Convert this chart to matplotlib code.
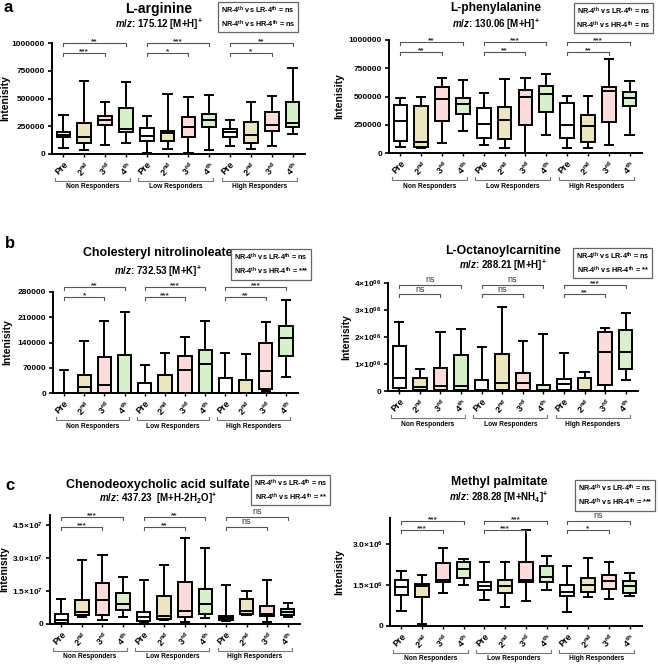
import matplotlib.pyplot as plt

plt.rcParams['font.family'] = ['Liberation Sans', 'DejaVu Sans']
plt.rcParams['font.weight'] = 'bold'
plt.rcParams['mathtext.fontset'] = 'custom'
plt.rcParams['mathtext.rm'] = 'Liberation Sans:bold'
plt.rcParams['mathtext.it'] = 'Liberation Sans:italic:bold'
plt.rcParams['mathtext.bf'] = 'Liberation Sans:bold'
plt.rcParams['mathtext.default'] = 'rm'

W, H = 658, 664

groups = ['Non Responders', 'Low Responders', 'High Responders']
visits = ['Pre', '2$^{nd}$', '3$^{rd}$', '4$^{th}$']
fills = ['white', '#ece5c2', '#fbdcdd', '#d8efcc']

# each box: (min, q1, median, q3, max), order NR Pre..4th, LR Pre..4th, HR Pre..4th
arginine = [(55e3, 150e3, 170e3, 195e3, 355e3), (40e3, 95e3, 155e3, 275e3, 662e3),
            (85e3, 265e3, 310e3, 345e3, 465e3), (100e3, 200e3, 225e3, 410e3, 645e3),
            (10e3, 115e3, 160e3, 230e3, 340e3), (45e3, 120e3, 185e3, 210e3, 545e3),
            (5e3, 150e3, 245e3, 330e3, 510e3), (40e3, 240e3, 310e3, 360e3, 530e3),
            (75e3, 150e3, 195e3, 225e3, 305e3), (45e3, 100e3, 175e3, 285e3, 470e3),
            (75e3, 205e3, 265e3, 380e3, 520e3), (180e3, 240e3, 275e3, 470e3, 775e3)]

phenylalanine = [(50e3, 105e3, 285e3, 425e3, 490e3), (40e3, 50e3, 95e3, 415e3, 500e3),
                 (85e3, 285e3, 480e3, 585e3, 665e3), (195e3, 345e3, 430e3, 490e3, 650e3),
                 (70e3, 130e3, 255e3, 395e3, 535e3), (45e3, 120e3, 295e3, 405e3, 655e3),
                 (0, 250e3, 495e3, 560e3, 665e3), (160e3, 360e3, 520e3, 595e3, 695e3),
                 (45e3, 130e3, 250e3, 440e3, 505e3), (40e3, 95e3, 235e3, 340e3, 505e3),
                 (70e3, 275e3, 545e3, 585e3, 835e3), (160e3, 420e3, 490e3, 540e3, 640e3)]

cholesteryl = [(0, 0, 0, 0, 65e3), (0, 0, 17e3, 50e3, 145e3),
               (0, 0, 22e3, 100e3, 200e3), (0, 0, 0, 105e3, 225e3),
               (0, 0, 0, 27e3, 77e3), (0, 0, 0, 50e3, 112e3),
               (0, 0, 63e3, 103e3, 155e3), (0, 0, 80e3, 118e3, 200e3),
               (0, 0, 0, 42e3, 110e3), (0, 0, 0, 37e3, 108e3),
               (5e3, 12e3, 60e3, 140e3, 197e3), (43e3, 103e3, 152e3, 187e3, 257e3)]

octanoylcarnitine = [(0, 0.12e6, 0.47e6, 1.68e6, 2.55e6), (0, 0.05e6, 0.15e6, 0.5e6, 0.8e6),
                     (0, 0.03e6, 0.2e6, 0.85e6, 2.2e6), (0, 0.03e6, 0.2e6, 1.35e6, 2.3e6),
                     (0, 0.02e6, 0.05e6, 0.42e6, 1.63e6), (0, 0.05e6, 0.28e6, 1.37e6, 3.12e6),
                     (0, 0.05e6, 0.3e6, 0.65e6, 1.87e6), (0, 0.01e6, 0.03e6, 0.24e6, 2.1e6),
                     (0, 0.05e6, 0.27e6, 0.45e6, 1.4e6), (0, 0.02e6, 0.05e6, 0.48e6, 0.7e6),
                     (0, 0.22e6, 1.43e6, 2.18e6, 2.35e6), (0.42e6, 0.82e6, 1.43e6, 2.27e6, 2.9e6)]

chenodeoxycholic = [(0, 0.05e7, 0.18e7, 0.45e7, 1.15e7), (0.3e7, 0.4e7, 0.55e7, 1.1e7, 2.9e7),
                    (0.2e7, 0.4e7, 1.1e7, 1.85e7, 3.15e7), (0.3e7, 0.65e7, 0.9e7, 1.4e7, 2.15e7),
                    (0.1e7, 0.15e7, 0.3e7, 0.55e7, 2.0e7), (0.2e7, 0.22e7, 0.35e7, 1.25e7, 2.7e7),
                    (0.1e7, 0.3e7, 0.6e7, 1.9e7, 3.9e7), (0.25e7, 0.45e7, 0.9e7, 1.6e7, 3.45e7),
                    (0.12e7, 0.18e7, 0.25e7, 0.35e7, 1.75e7), (0.4e7, 0.45e7, 0.6e7, 1.15e7, 1.5e7),
                    (0.1e7, 0.35e7, 0.45e7, 0.8e7, 2.0e7), (0.32e7, 0.4e7, 0.55e7, 0.68e7, 0.95e7)]

methyl_palmitate = [(0.55e6, 1.15e6, 1.43e6, 1.7e6, 2.0e6), (0.08e6, 1.05e6, 1.45e6, 1.55e6, 1.85e6),
                    (1.2e6, 1.6e6, 1.7e6, 2.3e6, 2.85e6), (1.5e6, 1.75e6, 2.1e6, 2.35e6, 2.45e6),
                    (0.95e6, 1.3e6, 1.45e6, 1.6e6, 2.35e6), (0.7e6, 1.2e6, 1.45e6, 1.7e6, 2.35e6),
                    (0.9e6, 1.6e6, 1.7e6, 2.35e6, 3.5e6), (1.3e6, 1.6e6, 1.8e6, 2.2e6, 2.55e6),
                    (0.5e6, 1.1e6, 1.25e6, 1.5e6, 2.2e6), (1.05e6, 1.25e6, 1.5e6, 1.75e6, 2.5e6),
                    (1.0e6, 1.35e6, 1.65e6, 1.85e6, 2.35e6), (1.08e6, 1.2e6, 1.45e6, 1.65e6, 1.95e6)]

# significance per group: (Pre vs 3rd, Pre vs 4th)
sig_arginine = [('***', '**'), ('*', '***'), ('*', '**')]
sig_phenylalanine = [('**', '**'), ('**', '***'), ('**', '***')]
sig_cholesteryl = [('*', '**'), ('***', '***'), ('**', '***')]
sig_octanoyl = [('ns', 'ns'), ('ns', 'ns'), ('**', '***')]
sig_cheno = [('***', '***'), ('**', '**'), ('ns', 'ns')]
sig_methyl = [('***', '***'), ('***', '***'), ('*', 'ns')]

# 4th visit comparisons between groups
cmp_arginine = ('ns', 'ns')
cmp_phenylalanine = ('ns', 'ns')
cmp_cholesteryl = ('ns', '***')
cmp_octanoyl = ('ns', '**')
cmp_cheno = ('ns', '**')
cmp_methyl = ('ns', '***')


def fx(x):
    return x / W


def fy(y):
    return 1 - y / H


def panel(data, sig, cmp, title, tsize, subtitle, ylim, yticks, yticklabels,
          ax_px, title_px, sub_y, box_px, ylab_x, sig_px):
    l, t, r, b = ax_px
    ax = fig.add_axes([fx(l), fy(b), (r - l) / W, (b - t) / H])
    stats = [dict(whislo=d[0], q1=d[1], med=d[2], q3=d[3], whishi=d[4], fliers=[])
             for d in data]
    bp = ax.bxp(stats, positions=range(12), widths=0.66, capwidths=0.4,
                patch_artist=True, showfliers=False,
                boxprops=dict(linewidth=1.4, edgecolor='black'),
                medianprops=dict(color='black', linewidth=1.4),
                whiskerprops=dict(color='black', linewidth=1.4),
                capprops=dict(color='black', linewidth=1.4))
    for i, p in enumerate(bp['boxes']):
        p.set_facecolor(fills[i % 4])
    ax.set_xlim(-0.55, 11.6)
    ax.set_ylim(*ylim)
    ax.set_yticks(yticks)
    ax.set_yticklabels(yticklabels, fontsize=6, fontweight='bold')
    ax.set_xticks(range(12))
    ax.set_xticklabels(visits * 3, fontsize=6.5, fontweight='bold', rotation=45,
                       ha='right', va='top', rotation_mode='anchor')
    ax.tick_params(axis='x', length=2.5, width=1, pad=2)
    ax.tick_params(axis='y', length=3, width=1.2, pad=2)
    for s in ['top', 'right']:
        ax.spines[s].set_visible(False)
    for s in ['left', 'bottom']:
        ax.spines[s].set_linewidth(1.4)
    ax.set_ylabel('Intenisity', fontsize=7.5, fontweight='bold')
    ax.yaxis.set_label_coords((ylab_x - l) / (r - l), 0.5)

    hpx = b - t
    tr = ax.get_xaxis_transform()
    # significance brackets
    for g, (s3, s4) in enumerate(sig):
        x0 = 4 * g
        for xe, lab, ypx in [(x0 + 2, s3, sig_px[1]), (x0 + 3, s4, sig_px[0])]:
            yy = (b - ypx) / hpx
            tk = 3 / hpx
            ax.plot([x0, x0, xe, xe], [yy - tk, yy, yy, yy - tk], color='#555555',
                    lw=0.8, transform=tr, clip_on=False)
            if lab == 'ns':
                ax.text((x0 + xe) / 2, yy + 0.5 / hpx, lab, ha='center', va='bottom',
                        fontsize=6.5, fontweight='normal', color='#333333', transform=tr)
            else:
                ax.text((x0 + xe) / 2, yy - 2 / hpx, lab, ha='center', va='bottom',
                        fontsize=6, color='#333333', transform=tr)
    # group brackets
    for g, name in enumerate(groups):
        xa, xb = 4 * g - 0.4, 4 * g + 3.2
        yb = -27 / hpx
        tk = 3 / hpx
        ax.plot([xa, xa, xb, xb], [yb + tk, yb, yb, yb + tk], color='#777777',
                lw=0.8, transform=tr, clip_on=False)
        ax.text((xa + xb) / 2, yb - 2.5 / hpx, name, ha='center', va='top',
                fontsize=4.8, transform=tr)

    fig.text(fx(title_px[0]), fy(title_px[1]), title, ha='center', va='center',
             fontsize=tsize, fontweight='bold')
    fig.text(fx(title_px[0]), fy(sub_y), subtitle, ha='center', va='center',
             fontsize=7, fontweight='bold')
    bl, bt, br, bb = box_px
    fig.text(fx((bl + br) / 2), fy((bt + bb) / 2),
             'NR-4$^{th}$ vs LR-4$^{th}$ = ' + cmp[0] + '\nNR-4$^{th}$ vs HR-4$^{th}$ = ' + cmp[1],
             ha='center', va='center', fontsize=5.2, fontweight='bold', linespacing=1.3,
             bbox=dict(boxstyle='square,pad=0.35', fc='white', ec='#666666', lw=0.9))
    return ax


fig = plt.figure(figsize=(W / 100, H / 100), dpi=100)

panel(arginine, sig_arginine, cmp_arginine, 'L-arginine', 10, r'$\it{m/z}$: 175.12 [M+H]$^{+}$',
      (0, 1e6), [0, 250000, 500000, 750000, 1000000],
      ['0', '250000', '500000', '750000', '1000000'],
      (52, 43, 305, 154), (159, 9), 24, (221, 6, 295, 28), 10, (43, 53))

panel(phenylalanine, sig_phenylalanine, cmp_phenylalanine, 'L-phenylalanine', 8.6,
      r'$\it{m/z}$: 130.06 [M+H]$^{+}$',
      (0, 1e6), [0, 250000, 500000, 750000, 1000000],
      ['0', '250000', '500000', '750000', '1000000'],
      (389, 40, 642, 153), (496, 8), 24, (573, 7, 654, 29), 344, (42, 52))

panel(cholesteryl, sig_cholesteryl, cmp_cholesteryl, 'Cholesteryl nitrolinoleate', 8.9,
      r'$\it{m/z}$: 732.53 [M+K]$^{+}$',
      (0, 280000), [0, 70000, 140000, 210000, 280000],
      ['0', '70000', '140000', '210000', '280000'],
      (53, 292, 298, 393), (158, 253), 271, (231, 254, 311, 275), 12, (287, 297))

panel(octanoylcarnitine, sig_octanoyl, cmp_octanoyl, 'L-Octanoylcarnitine', 8.8,
      r'$\it{m/z}$: 288.21 [M+H]$^{+}$',
      (0, 4e6), [0, 1e6, 2e6, 3e6, 4e6],
      ['0', '1×10$^{06}$', '2×10$^{06}$', '3×10$^{06}$', '4×10$^{06}$'],
      (388, 283, 638, 391), (503, 251), 265, (573, 253, 652, 273), 351, (285, 294))

panel(chenodeoxycholic, sig_cheno, cmp_cheno, 'Chenodeoxycholic acid sulfate', 9,
      r'$\it{m/z}$: 437.23  [M+H-2H$_{2}$O]$^{+}$',
      (0, 4.95e7), [0, 1.5e7, 3.0e7, 4.5e7],
      ['0', '1.5×10$^{7}$', '3.0×10$^{7}$', '4.5×10$^{7}$'],
      (50, 515, 300, 624), (158, 485), 498, (251, 479, 330, 501), 9, (517, 527))

panel(methyl_palmitate, sig_methyl, cmp_methyl, 'Methyl palmitate', 8.8,
      r'$\it{m/z}$: 288.28 [M+NH$_{4}$]$^{+}$',
      (0, 3.95e6), [0, 1.5e6, 3.0e6],
      ['0', '1.5×10$^{6}$', '3.0×10$^{6}$'],
      (390, 518, 642, 626), (499, 482), 497, (576, 487, 654, 504), 344, (521, 530))

fig.text(fx(8), fy(8), 'a', fontsize=12, fontweight='bold', ha='center', va='center')
fig.text(fx(10), fy(243), 'b', fontsize=12, fontweight='bold', ha='center', va='center')
fig.text(fx(10), fy(485), 'c', fontsize=12, fontweight='bold', ha='center', va='center')

fig.savefig('out.png', dpi=100)
